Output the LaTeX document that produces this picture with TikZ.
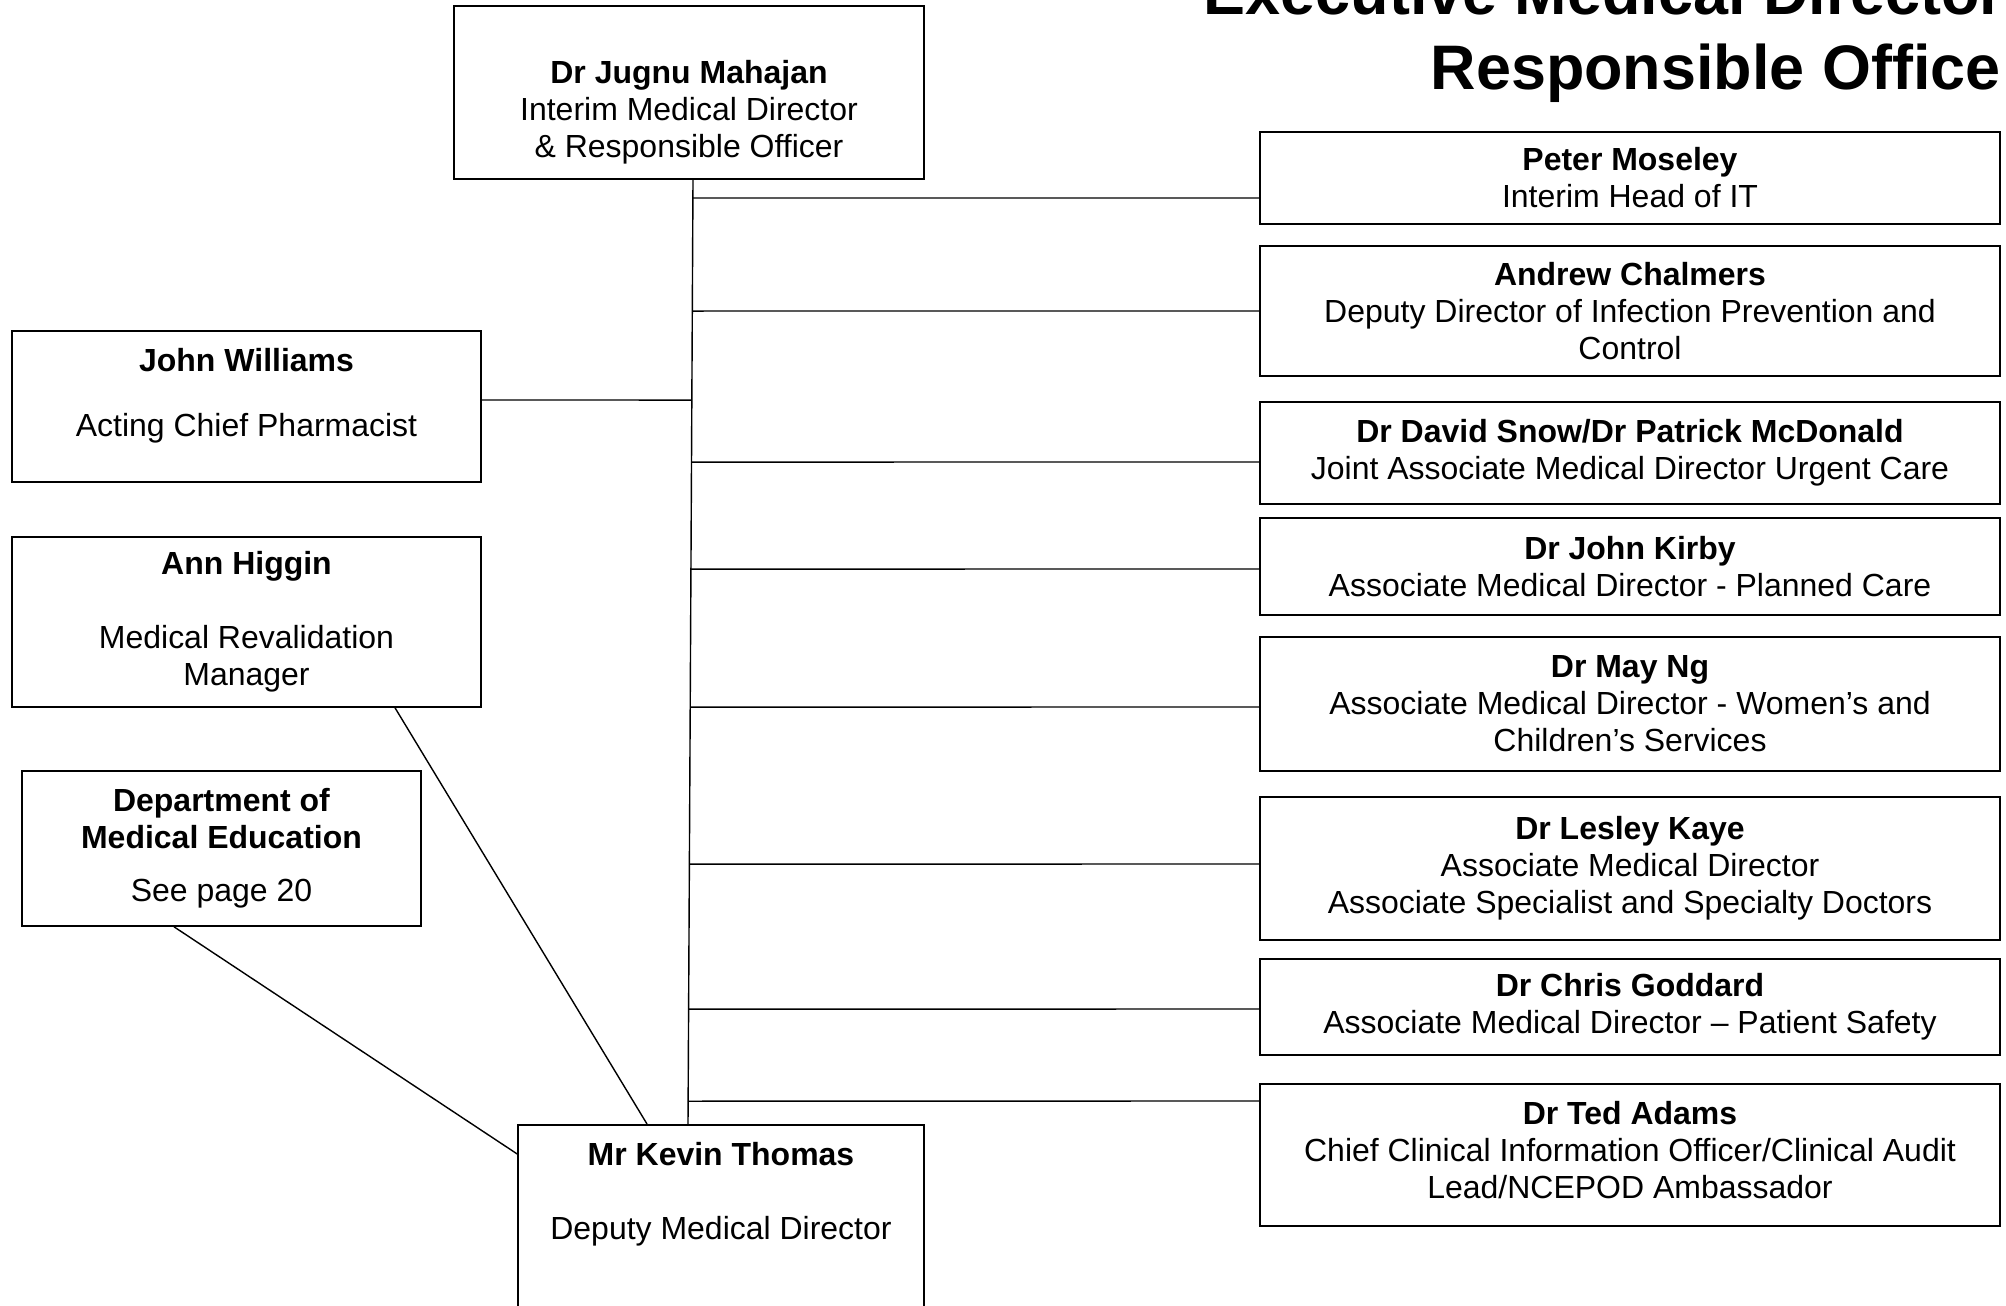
\documentclass[tikz,border=0pt]{standalone}
\usepackage{fontspec}
\setmainfont{Liberation Sans}
\usetikzlibrary{positioning,calc}

\begin{document}
\begin{tikzpicture}[
    box/.style={
        rectangle, draw=black, line width=0.45pt,
        font=\fontsize{9.1}{10.5}\selectfont, align=center,
        inner sep=0pt
    },
    rbox/.style={box, minimum width=7.40cm},
    lbox/.style={box, minimum width=4.69cm},
    txt/.style={font=\fontsize{9.1}{10.5}\selectfont, align=center, inner sep=0pt},
    link/.style={line width=0.4pt, black},
    title/.style={font=\fontsize{17.9}{21.3}\selectfont\bfseries,
        inner sep=0pt, anchor=base west},
]
\useasboundingbox (0,0) rectangle (20.06,-13.06);

% ── Title (cut at the page edge) ──
\node[title] (title1) at (12.03,-0.15) {Executive Medical Director};
\node[title] (title2) at (14.30,-0.90) {Responsible Office};

% ── Top: Medical Director ──
\node[box, minimum width=4.70cm, minimum height=1.73cm] (jugnu) at (6.89,-0.925) {};
\node[txt] (jugnutxt) at ([yshift=-0.20cm]jugnu.center)
    {\textbf{Dr Jugnu Mahajan}\\Interim Medical Director\\\& Responsible Officer};

% ── Right column ──
\node[rbox, minimum height=0.92cm] (peter) at (16.30,-1.78)
    {\textbf{Peter Moseley}\\Interim Head of IT};
\node[rbox, minimum height=1.30cm] (andrew) at (16.30,-3.11)
    {\textbf{Andrew Chalmers}\\Deputy Director of Infection Prevention and\\Control};
\node[rbox, minimum height=1.02cm] (david) at (16.30,-4.53)
    {\textbf{Dr David Snow/Dr Patrick McDonald}\\Joint Associate Medical Director Urgent Care};
\node[rbox, minimum height=0.97cm] (kirby) at (16.30,-5.665)
    {\textbf{Dr John Kirby}\\Associate Medical Director - Planned Care};
\node[rbox, minimum height=1.34cm] (mayng) at (16.30,-7.04)
    {\textbf{Dr May Ng}\\Associate Medical Director - Women’s and\\Children’s Services};
\node[rbox, minimum height=1.43cm] (lesley) at (16.30,-8.685)
    {\textbf{Dr Lesley Kaye}\\Associate Medical Director\\Associate Specialist and Specialty Doctors};
\node[rbox, minimum height=0.96cm] (goddard) at (16.30,-10.07)
    {\textbf{Dr Chris Goddard}\\Associate Medical Director – Patient Safety};
\node[rbox, minimum height=1.42cm] (ted) at (16.30,-11.55) {};
\node[txt] (tedtxt) at ([yshift=0.05cm]ted.center)
    {\textbf{Dr Ted Adams}\\Chief Clinical Information Officer/Clinical Audit\\Lead/NCEPOD Ambassador};

% ── Left column ──
\node[lbox, minimum height=1.51cm] (jw) at (2.465,-4.065) {};
\node[txt] (jwtxt) at ([yshift=0.11cm]jw.center)
    {\textbf{John Williams}\\[8pt]Acting Chief Pharmacist};
\node[lbox, minimum height=1.70cm] (ah) at (2.465,-6.22)
    {\textbf{Ann Higgin}\\[10.5pt]Medical Revalidation\\Manager};
\node[box, minimum width=3.99cm, minimum height=1.55cm] (dme) at (2.215,-8.485)
    {\textbf{Department of}\\\textbf{Medical Education}\\[4.5pt]See page 20};

% ── Bottom: Deputy ──
\node[box, minimum width=4.06cm, minimum height=2.4cm, anchor=north] (kevin) at (7.21,-11.24) {};
\node[txt] (kevintxt) at ([yshift=-0.70cm]kevin.north)
    {\textbf{Mr Kevin Thomas}\\[10.5pt]Deputy Medical Director};

% ── Spine ──
\coordinate (spinetop) at ([xshift=0.04cm]jugnu.south);
\coordinate (spinebot) at ([xshift=-0.33cm]kevin.north);
\draw[link] (spinetop) -- (spinebot);

\foreach \n/\dy in {peter/-0.20, andrew/0, david/-0.09, kirby/-0.025,
                    mayng/-0.03, lesley/0.045, goddard/-0.02, ted/0.54} {
    \coordinate (p) at ([yshift=\dy cm]\n.west);
    \draw[link] (p) -- (intersection of spinetop--spinebot and p--{$(p)+(-1,0)$});
}
\coordinate (q) at ([yshift=0.065cm]jw.east);
\draw[link] (q) -- (intersection of spinetop--spinebot and q--{$(q)+(1,0)$});

% ── Diagonals to Deputy ──
\draw[link] ([xshift=1.485cm]ah.south) -- ([xshift=-0.74cm]kevin.north);
\draw[link] ([xshift=-0.475cm]dme.south) -- ([yshift=-0.30cm]kevin.north west);

\end{tikzpicture}
\end{document}
